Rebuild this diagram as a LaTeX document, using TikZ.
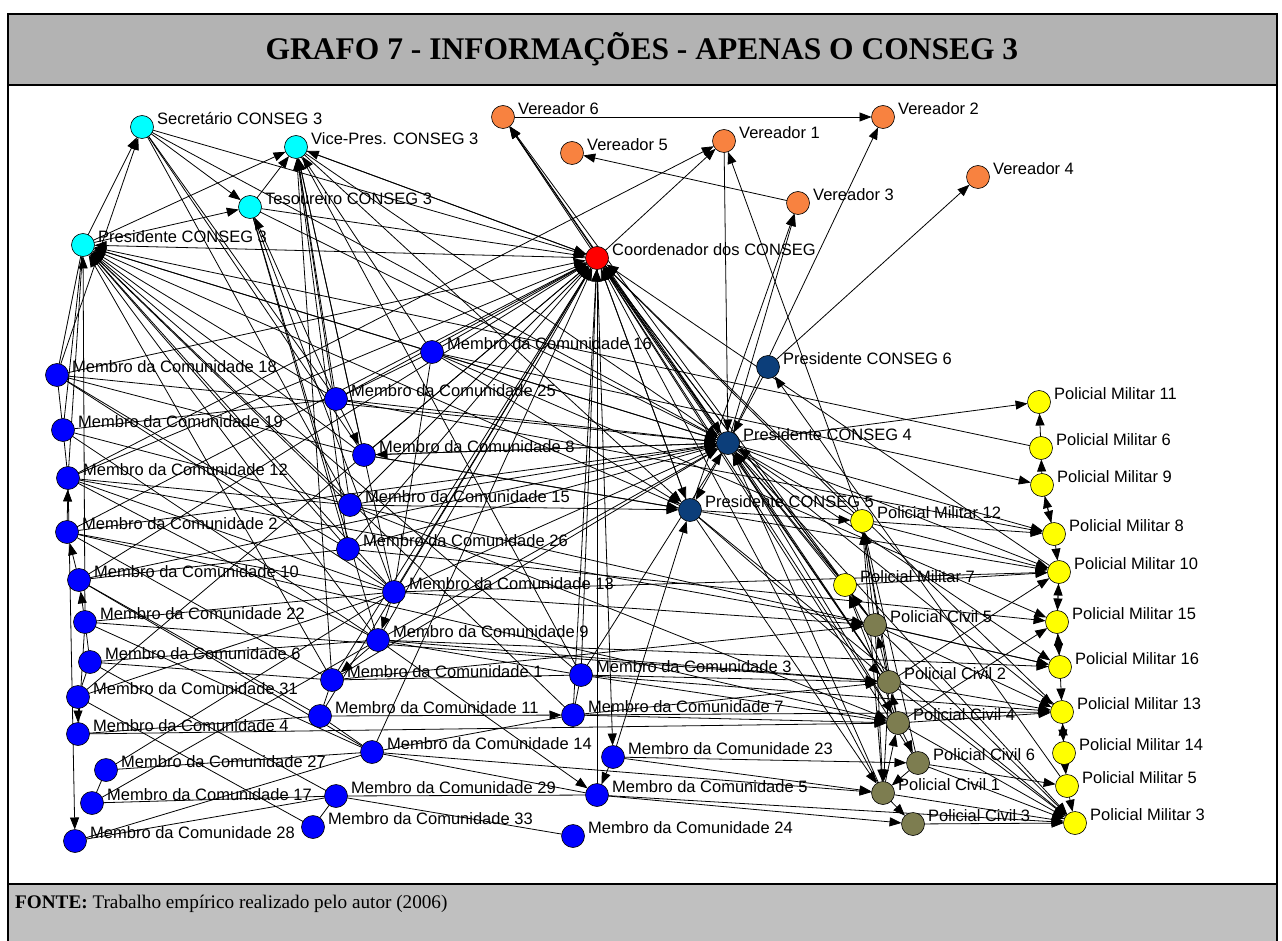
\documentclass[tikz,border=0pt]{standalone}
\usepackage{fontspec}
\setmainfont{Liberation Serif}
\newfontfamily\lblfont{Liberation Sans}
\usetikzlibrary{arrows.meta}
\pgfdeclarelayer{bg}
\pgfdeclarelayer{edges}
\pgfsetlayers{bg,edges,main}

\definecolor{bandgray}{RGB}{179,179,179}
\definecolor{footgray}{RGB}{192,192,192}
\definecolor{cyanv}{RGB}{0,255,255}
\definecolor{orangev}{RGB}{248,130,64}
\definecolor{redv}{RGB}{255,0,0}
\definecolor{bluev}{RGB}{0,0,255}
\definecolor{navyv}{RGB}{12,62,122}
\definecolor{yellowv}{RGB}{255,255,0}
\definecolor{olivev}{RGB}{125,125,80}

\tikzset{
  vert/.style={circle,draw=black,line width=0.6pt,minimum size=23pt,inner sep=0pt,outer sep=0pt},
  lbl/.style={anchor=west,inner sep=0pt,font=\lblfont\fontsize{16.5}{18}\selectfont},
  tie/.style={draw=black,line width=0.8pt},
  edge/.style={tie,-{Triangle[length=12pt,width=9pt]}},
}

% vertex with its label: name, x, y, colour, text
\newcommand\vtx[5]{%
  \node[vert,fill=#4] (#1) at (#2,#3) {};
  \node[lbl] (#1l) at ({#2+15},{#3-8}) {#5};
}

\begin{document}
\begin{tikzpicture}[x=1pt,y=-1pt]
\useasboundingbox (0,0) rectangle (1282,941);

% frame, title band and source band
\begin{pgfonlayer}{bg}
\fill[white] (0,0) rectangle (1282,941);
\fill[bandgray] (8,14) rectangle (1277,85);
\fill[footgray] (8,884) rectangle (1277,945);
\end{pgfonlayer}
\draw[line width=2pt] (8,945) -- (8,14) -- (1277,14) -- (1277,945);
\draw[line width=2pt] (8,85) -- (1277,85);
\draw[line width=2pt] (8,884) -- (1277,884);
\node[font=\bfseries\fontsize{31.5}{34}\selectfont] (title) at (642,49) {GRAFO 7 - INFORMAÇÕES - APENAS O CONSEG 3};
\node[anchor=west,inner sep=0pt,font=\fontsize{19.2}{22}\selectfont] (fonte) at (15,904) {\textbf{FONTE:} Trabalho empírico realizado pelo autor (2006)};

% CONSEG 3 board
\vtx{sec}{142}{127}{cyanv}{Secretário CONSEG 3}
\vtx{vice}{296}{147}{cyanv}{Vice-Pres. CONSEG 3}
\vtx{tes}{250}{207}{cyanv}{Tesoureiro CONSEG 3}
\vtx{p3}{83}{245}{cyanv}{Presidente CONSEG 3}
% councillors
\vtx{v6}{503}{117}{orangev}{Vereador 6}
\vtx{v5}{572}{153}{orangev}{Vereador 5}
\vtx{v1}{724}{141}{orangev}{Vereador 1}
\vtx{v2}{883}{117}{orangev}{Vereador 2}
\vtx{v3}{798}{203}{orangev}{Vereador 3}
\vtx{v4}{978}{177}{orangev}{Vereador 4}
\vtx{coord}{597}{258}{redv}{Coordenador dos CONSEG}
% other presidents
\vtx{p6}{768}{367}{navyv}{Presidente CONSEG 6}
\vtx{p4}{728}{443}{navyv}{Presidente CONSEG 4}
\vtx{p5}{690}{510}{navyv}{Presidente CONSEG 5}
% community members
\vtx{m16}{432}{352}{bluev}{Membro da Comunidade 16}
\vtx{m18}{57}{375}{bluev}{Membro da Comunidade 18}
\vtx{m19}{63}{430}{bluev}{Membro da Comunidade 19}
\vtx{m12}{68}{478}{bluev}{Membro da Comunidade 12}
\vtx{m2}{67}{532}{bluev}{Membro da Comunidade 2}
\vtx{m10}{79}{580}{bluev}{Membro da Comunidade 10}
\vtx{m22}{85}{622}{bluev}{Membro da Comunidade 22}
\vtx{m6}{90}{662}{bluev}{Membro da Comunidade 6}
\vtx{m31}{78}{697}{bluev}{Membro da Comunidade 31}
\vtx{m4}{78}{734}{bluev}{Membro da Comunidade 4}
\vtx{m27}{106}{770}{bluev}{Membro da Comunidade 27}
\vtx{m17}{92}{803}{bluev}{Membro da Comunidade 17}
\vtx{m28}{75}{841}{bluev}{Membro da Comunidade 28}
\vtx{m25}{336}{399}{bluev}{Membro da Comunidade 25}
\vtx{m8}{364}{455}{bluev}{Membro da Comunidade 8}
\vtx{m15}{350}{505}{bluev}{Membro da Comunidade 15}
\vtx{m26}{348}{549}{bluev}{Membro da Comunidade 26}
\vtx{m13}{394}{592}{bluev}{Membro da Comunidade 13}
\vtx{m9}{378}{640}{bluev}{Membro da Comunidade 9}
\vtx{m1}{332}{680}{bluev}{Membro da Comunidade 1}
\vtx{m11}{320}{716}{bluev}{Membro da Comunidade 11}
\vtx{m14}{372}{752}{bluev}{Membro da Comunidade 14}
\vtx{m29}{336}{796}{bluev}{Membro da Comunidade 29}
\vtx{m33}{313}{827}{bluev}{Membro da Comunidade 33}
\vtx{m3}{581}{675}{bluev}{Membro da Comunidade 3}
\vtx{m7}{573}{715}{bluev}{Membro da Comunidade 7}
\vtx{m23}{613}{757}{bluev}{Membro da Comunidade 23}
\vtx{m5}{597}{795}{bluev}{Membro da Comunidade 5}
\vtx{m24}{573}{836}{bluev}{Membro da Comunidade 24}
% military police
\vtx{pm11}{1039}{402}{yellowv}{Policial Militar 11}
\vtx{pm6}{1041}{448}{yellowv}{Policial Militar 6}
\vtx{pm9}{1042}{485}{yellowv}{Policial Militar 9}
\vtx{pm8}{1054}{534}{yellowv}{Policial Militar 8}
\vtx{pm10}{1059}{572}{yellowv}{Policial Militar 10}
\vtx{pm12}{862}{521}{yellowv}{Policial Militar 12}
\vtx{pm7}{845}{585}{yellowv}{Policial Militar 7}
\vtx{pm15}{1057}{622}{yellowv}{Policial Militar 15}
\vtx{pm16}{1060}{667}{yellowv}{Policial Militar 16}
\vtx{pm13}{1062}{712}{yellowv}{Policial Militar 13}
\vtx{pm14}{1064}{753}{yellowv}{Policial Militar 14}
\vtx{pm5}{1067}{786}{yellowv}{Policial Militar 5}
\vtx{pm3}{1075}{823}{yellowv}{Policial Militar 3}
% civil police
\vtx{pc5}{875}{625}{olivev}{Policial Civil 5}
\vtx{pc2}{889}{682}{olivev}{Policial Civil 2}
\vtx{pc4}{898}{723}{olivev}{Policial Civil 4}
\vtx{pc6}{918}{763}{olivev}{Policial Civil 6}
\vtx{pc1}{883}{793}{olivev}{Policial Civil 1}
\vtx{pc3}{913}{824}{olivev}{Policial Civil 3}

\begin{pgfonlayer}{edges}
% directed ties (source/target)
\foreach \a/\b in {
 p3/sec, m18/sec, p3/vice, p3/tes, sec/tes, tes/vice,
 sec/coord, sec/p4,
 vice/coord, vice/p4, vice/p5,
 tes/coord, tes/p4,
 m25/vice, m8/vice, m16/vice, m15/vice, m26/vice, m13/vice, coord/vice, m1/vice,
 m25/tes,
 coord/p3, m16/p3, m25/p3, m8/p3, m15/p3, p4/p3, m3/p3, m13/p3, pm6/p3, m9/p3, m26/p3,
 m1/p3, m7/p3, p5/p3, m22/p3,
 m16/coord, m25/coord, m8/coord, m15/coord, m26/coord, m13/coord, m9/coord, m1/coord,
 m3/coord, m7/coord, m5/coord, m14/coord, m11/coord, p4/coord, p5/coord, pc5/coord,
 pc2/coord, pc4/coord, pc6/coord, pc1/coord, pm12/coord, pm7/coord, m12/coord, m2/coord,
 m10/coord, m18/coord, m31/coord, pm10/coord, pm13/coord,
 coord/v6, coord/v1, p4/v6, pc5/v6, pc2/v6,
 m12/v1, pm12/v1, v1/p4,
 v3/v5, v6/v2, p4/v3, p5/v3, p4/v2, p6/v4,
 m16/p4, m25/p4, m8/p4, m15/p4, m26/p4, m13/p4, m9/p4, p6/p4, m2/p4, pc5/p4, pc2/p4,
 pm12/p4, pm7/p4, m3/p4, m1/p4, m18/p4, m10/p4, pc1/p4, coord/p4,
 pm5/p6,
 p4/pm11, p4/pm8, p4/pm10, p4/pm13, p4/pm3, p4/pc4, p4/pm16, p4/p5,
 coord/p5, m16/p5, m8/p5, m15/p5, m23/p5,
 p5/pm12, p5/pc2, p5/pm3, p5/pc1,
 pm6/pm11, pm9/pm6, pm9/pm8, pm8/pm9, pm12/pm8, pm12/pm10, pm7/pm10, pm8/pm10,
 pm15/pm10, pm10/pm15, pm15/pm16, pm16/pm15, pm16/pm13, pm13/pm14, pm14/pm13,
 pm14/pm5, pm5/pm3,
 m16/pm9, m25/pm8, m8/pm10, m13/pm10, m26/pm15, m15/pm16, m3/pm13, m7/pm13, m9/pm16,
 m16/pm15,
 pc5/pm16, pc5/pm13, pc2/pm13, pc2/pm3, pc4/pm13, pc4/pm3, pc6/pm3, pc1/pm3, pc3/pm3,
 pc5/pm3, pc6/pm5, pc2/pm10, pc4/pm15,
 pc5/pm12, pc2/pm12, pc4/pm12, pc1/pm12, pc6/pm12, pc5/pm7, pc2/pm7, pc4/pm7,
 pc2/pc5, pc4/pc2, pc4/pc6, pc1/pc4, pc5/pc1, pc2/pc1, pc6/pc1, pc1/pc3,
 m7/pc4, m13/pc5, m5/pc3, m3/pc4, m23/pc1, m9/pc2, m15/pc4, m1/pc5, m4/pc4, m11/m7,
 m7/pc2, m3/pc2, m23/pc6, m14/pc1, m12/pc5, m2/pc4, m22/pc2, m5/pm3,
 m25/m8, p4/m8, m13/m9, m9/m1, m9/m5, m23/m5, coord/m23,
 m2/m12, m10/m2, m22/m10, m31/m4, m12/m28}
  \draw[edge] (\a) -- (\b);
% ties whose heads are not shown
\foreach \a/\b in {
 sec/m25, sec/m15, sec/m8, vice/m3, tes/m13, tes/m9, tes/m26,
 m26/m13, m16/m13, m16/m25, m1/m11, m11/m14, m1/m3, m9/m3, m3/m7, m14/m7, m14/m5,
 m29/m5, m24/m29, m33/m29,
 m18/m19, m19/m12, m6/m22, m4/m22, m27/m17, m31/m6, m18/p3, m19/p3, m12/p3,
 m18/m13, m18/m26, m19/m15, m19/m9, m12/m9, m12/m13, m2/m1, m2/m13, m10/m11, m10/m14,
 m22/m13, m22/m14, m6/m29, m6/m1, m31/m33, m31/m13, m4/m11, m27/m14, m27/m13, m17/m29,
 m17/m9, m28/m29, m28/m14, m6/m9, m10/m26, m19/m25, m12/m15, m18/m8}
  \draw[tie] (\a) -- (\b);
\end{pgfonlayer}
\end{tikzpicture}
\end{document}
